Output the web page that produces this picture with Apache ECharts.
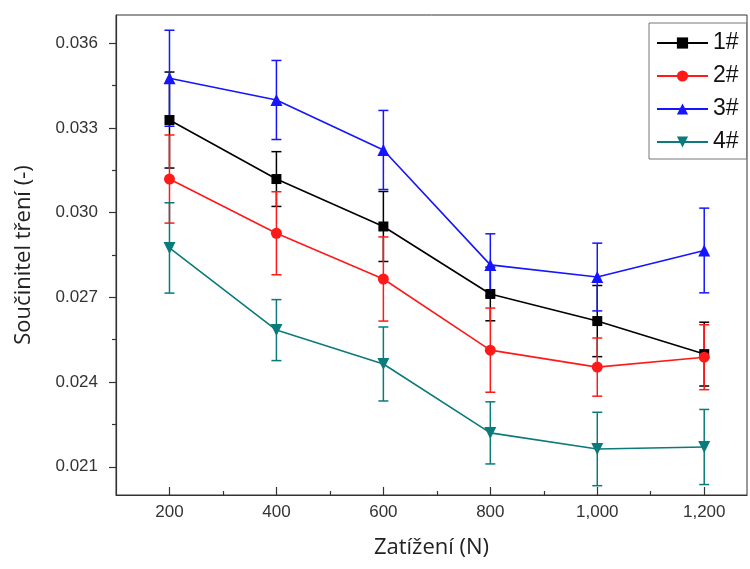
<!DOCTYPE html>
<html>
<head>
<meta charset="utf-8">
<script src="https://cdn.jsdelivr.net/npm/echarts@6/dist/echarts.min.js"></script>
<style>html,body{margin:0;padding:0;background:#fff}#c{width:750px;height:569px}</style>
</head>
<body>
<div id="c"></div>
<script>
const loads = [200, 400, 600, 800, 1000, 1200];
const names = ['1#', '2#', '3#', '4#'];
const s1 = [0.03328, 0.03119, 0.02951, 0.02712, 0.02616, 0.02499];
const e1 = [0.00170, 0.00097, 0.00124, 0.00095, 0.00126, 0.00113];
const s2 = [0.03119, 0.02927, 0.02765, 0.02513, 0.02453, 0.02488];
const e2 = [0.00156, 0.00147, 0.00149, 0.00149, 0.00103, 0.00115];
const s3 = [0.03476, 0.03399, 0.03222, 0.02815, 0.02772, 0.02866];
const e3 = [0.00170, 0.00140, 0.00140, 0.00110, 0.00120, 0.00150];
const s4 = [0.02875, 0.02584, 0.02464, 0.02220, 0.02163, 0.02170];
const e4 = [0.00160, 0.00108, 0.00131, 0.00110, 0.00130, 0.00133];
const xMajor = [200, 400, 600, 800, 1000, 1200];
const xMinor = [300, 500, 700, 900, 1100];
const yMajor = [0.021, 0.024, 0.027, 0.030, 0.033, 0.036];
const yMinor = [0.0225, 0.0255, 0.0285, 0.0315, 0.0345];

const colors = ['#000000', '#ff1a1a', '#1515ff', '#0b7a7a'];
const symbols = ['rect', 'circle', 'triangle', 'triangle'];
const symSizes = [10, 11, 12, 12];
const rotates = [0, 0, 0, 180];
const vals = [s1, s2, s3, s4];
const errs = [e1, e2, e3, e4];

const series = [];
for (let k = 0; k < 4; k++) {
  series.push({
    name: names[k], type: 'line',
    data: loads.map((x, i) => [x, vals[k][i]]),
    symbol: symbols[k], symbolSize: symSizes[k], symbolRotate: rotates[k],
    lineStyle: {color: colors[k], width: 1.6},
    itemStyle: {color: colors[k]},
    emphasis: {disabled: true}
  });
  const col = colors[k];
  series.push({
    name: names[k] + '_err', type: 'custom',
    data: loads.map((x, i) => [x, vals[k][i], errs[k][i]]),
    renderItem: function (params, api) {
      const x = api.value(0), y = api.value(1), e = api.value(2);
      const t = api.coord([x, y + e]);
      const b = api.coord([x, y - e]);
      const hw = 5;
      const st = {stroke: col, lineWidth: 1.5};
      return {type: 'group', children: [
        {type: 'line', shape: {x1: t[0], y1: t[1], x2: b[0], y2: b[1]}, style: st},
        {type: 'line', shape: {x1: t[0] - hw, y1: t[1], x2: t[0] + hw, y2: t[1]}, style: st},
        {type: 'line', shape: {x1: b[0] - hw, y1: b[1], x2: b[0] + hw, y2: b[1]}, style: st}
      ]};
    },
    encode: {x: 0, y: 1},
    silent: true
  });
}

const chart = echarts.init(document.getElementById('c'), null, {renderer: 'canvas'});
chart.setOption({
  animation: false,
  backgroundColor: '#fff',
  grid: {left: 116, right: 3, top: 15, bottom: 74, show: true, borderColor: '#333', borderWidth: 1},
  legend: {
    data: names, orient: 'vertical', left: 649, top: 23,
    itemWidth: 51, itemHeight: 14, itemGap: 9,
    padding: [8, 8, 5, 7],
    borderColor: '#777', borderWidth: 1, backgroundColor: '#fff',
    textStyle: {fontFamily: 'Liberation Sans', fontSize: 23, color: '#111', lineHeight: 24}
  },
  xAxis: [{
    type: 'value', min: 100, max: 1280,
    name: 'Zatížení (N)', nameLocation: 'middle', nameGap: 42,
    nameTextStyle: {fontFamily: 'Open Sans', fontSize: 22, color: '#222'},
    axisLine: {show: true, lineStyle: {color: '#333', width: 1.2}},
    axisTick: {show: true, inside: true, length: 8, customValues: xMajor, lineStyle: {color: '#333', width: 1.2}},
    axisLabel: {customValues: xMajor, fontFamily: 'Liberation Sans', fontSize: 17, color: '#333', margin: 9,
      formatter: v => v >= 1000 ? Math.floor(v / 1000) + ',' + String(v % 1000).padStart(3, '0') : String(v)},
    splitLine: {show: false}
  }, {
    type: 'value', min: 100, max: 1280, position: 'bottom', gridIndex: 0,
    axisLine: {show: false},
    axisTick: {show: true, inside: true, length: 4, customValues: xMinor, lineStyle: {color: '#333', width: 1.2}},
    axisLabel: {show: false}, splitLine: {show: false}
  }],
  yAxis: [{
    type: 'value', min: 0.020, max: 0.037,
    name: 'Součinitel tření (-)', nameLocation: 'middle', nameGap: 81,
    nameTextStyle: {fontFamily: 'Open Sans', fontSize: 22, color: '#222'},
    axisLine: {show: true, lineStyle: {color: '#333', width: 1.2}},
    axisTick: {show: true, inside: false, length: 7, customValues: yMajor, lineStyle: {color: '#333', width: 1.2}},
    axisLabel: {customValues: yMajor, fontFamily: 'Liberation Sans', fontSize: 17, color: '#333', margin: 18,
      formatter: v => v.toFixed(3)},
    splitLine: {show: false}
  }, {
    type: 'value', min: 0.020, max: 0.037, position: 'left', offset: 0,
    axisLine: {show: false},
    axisTick: {show: true, inside: false, length: 4, customValues: yMinor, lineStyle: {color: '#333', width: 1.2}},
    axisLabel: {show: false}, splitLine: {show: false}
  }],
  series: series
});
</script>
</body>
</html>
